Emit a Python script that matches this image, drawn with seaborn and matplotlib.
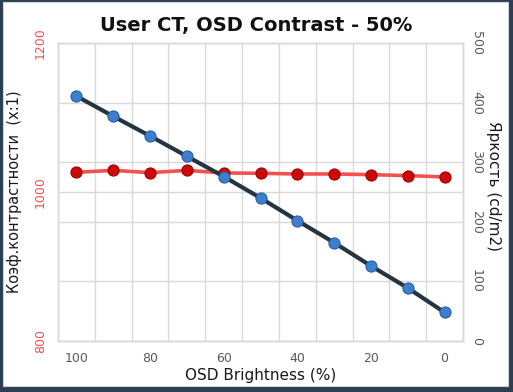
import numpy as np
import pandas as pd
import matplotlib
matplotlib.use("Agg")
import matplotlib.pyplot as plt
import seaborn as sns
from matplotlib.patches import Rectangle
from matplotlib.ticker import FixedLocator

# --- data ---
brightness = ["100", "90", "80", "70", "60", "50", "40", "30", "20", "10", "0"]
contrast = [1026.5, 1029.0, 1026.0, 1029.0, 1025.6, 1025.1, 1024.2, 1024.2, 1023.3, 1022.0, 1020.2]
luminance = [411, 377, 344, 310, 276, 240, 202, 165, 126, 89, 48]

df = pd.DataFrame({"brightness": brightness, "contrast": contrast, "luminance": luminance})

sns.set_theme(style="white")
plt.rcParams["font.family"] = ["DejaVu Sans"]

fig = plt.figure(figsize=(5.13, 3.92), dpi=100, facecolor="#2c3e50")
fig.patches.append(Rectangle((3 / 513, 6 / 392), 505 / 513, 384 / 392,
                             transform=fig.transFigure, facecolor="white",
                             edgecolor="#d0d4d8", linewidth=0.8, zorder=-10))

ax = fig.add_axes([58 / 513, 1 - 341 / 392, 405 / 513, 298 / 392])
ax.set_facecolor("white")
ax2 = ax.twinx()

# red: contrast ratio on left axis
sns.pointplot(data=df, x="brightness", y="contrast", order=brightness, ax=ax,
              color="#f05252", markers="o", linewidth=2.6, markersize=8,
              markerfacecolor="#cc0a0a", markeredgecolor="#a00000", markeredgewidth=0.8)

# blue: luminance on right axis
sns.pointplot(data=df, x="brightness", y="luminance", order=brightness, ax=ax2,
              color="#253540", markers="o", linewidth=3, markersize=8,
              markerfacecolor="#3d7fcf", markeredgecolor="#2a5f9e", markeredgewidth=0.8)

ax.set_xlim(-0.5, 10.5)
ax.set_ylim(800, 1200)
ax2.set_ylim(0, 500)

# ticks and grid
ax.set_xticks(range(0, 11, 2))
ax.set_xticklabels(brightness[::2])
ax.xaxis.set_minor_locator(FixedLocator(np.arange(-0.5, 11, 1)))
ax.set_yticks([800, 1000, 1200])
ax.yaxis.set_minor_locator(FixedLocator([880, 960, 1040, 1120]))
ax.grid(False)
ax.grid(True, which="minor", axis="x", color="#d9d9d9", linewidth=1)
ax.grid(True, which="both", axis="y", color="#d9d9d9", linewidth=1)
ax.set_axisbelow(True)
ax2.set_yticks(range(0, 501, 100))
ax2.grid(False)

ax.tick_params(axis="x", which="both", length=0, labelsize=9, labelcolor="#595959", pad=8)
ax.tick_params(axis="y", which="both", length=0, labelsize=9, labelcolor="#f05050", pad=8)
ax2.tick_params(axis="y", length=0, labelsize=9, labelcolor="#595959", pad=5)
for lab in ax.get_yticklabels():
    lab.set_rotation(90)
    lab.set_va("center")
for lab in ax2.get_yticklabels():
    lab.set_rotation(-90)
    lab.set_va("center")

for a in (ax, ax2):
    for s in a.spines.values():
        s.set_color("#d9d9d9")
        s.set_linewidth(1)

ax.set_xlabel("OSD Brightness (%)", fontsize=11, color="#1a1a1a", labelpad=2)
ax.set_ylabel("Коэф.контрастности  (x:1)", fontsize=10.5, color="#1a1a1a", va="center", ha="center")
ax2.set_ylabel("Яркость (cd/m2)", fontsize=11, color="#1a1a1a", rotation=-90, va="center", ha="center")
ax.yaxis.set_label_coords((15 - 58) / 405, 0.5)
ax2.yaxis.set_label_coords((493 - 58) / 405, 0.52)

fig.text(0.5, 1 - 25 / 392, "User CT, OSD Contrast - 50%", ha="center", va="center",
         fontsize=14, fontweight="bold", color="#111111")

fig.savefig("out.png", dpi=100, facecolor=fig.get_facecolor())
